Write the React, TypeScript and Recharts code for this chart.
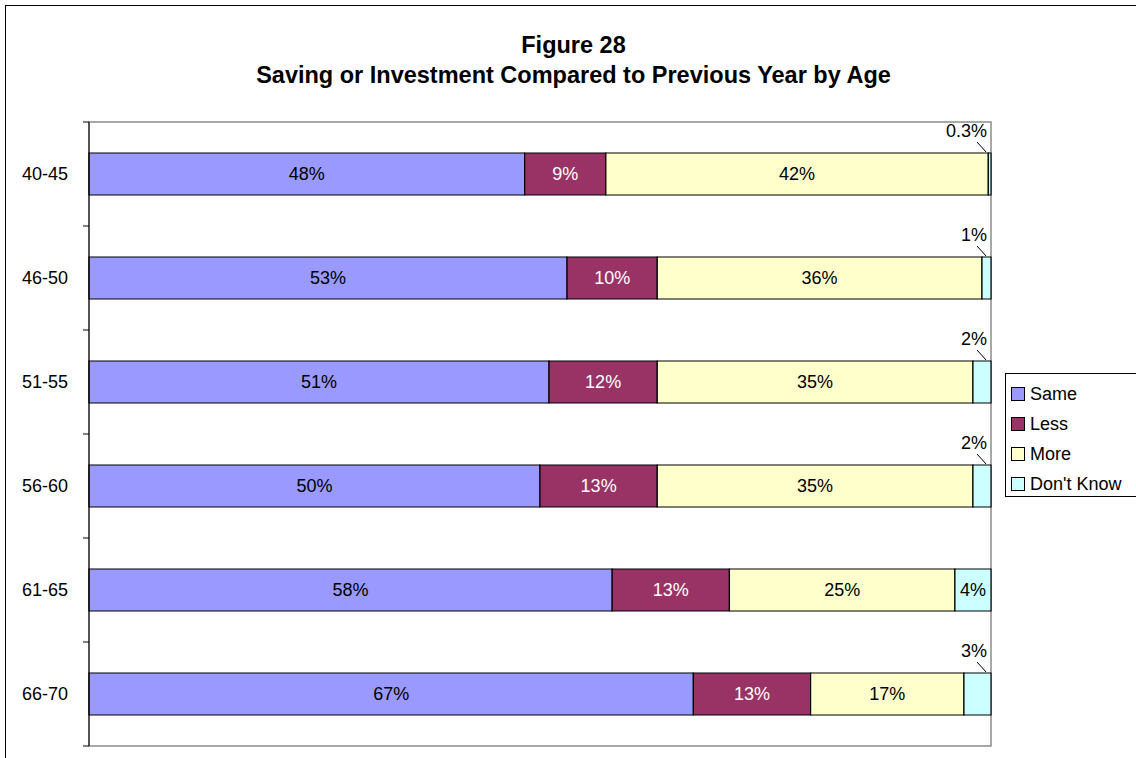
import { BarChart, Bar, XAxis, YAxis, LabelList, ReferenceArea } from "recharts";

const ages = ["40-45", "46-50", "51-55", "56-60", "61-65", "66-70"];
const same = [48.3, 53, 51, 50, 58, 67];
const less = [9, 10, 12, 13, 13, 13];
const more = [42.4, 36, 35, 35, 25, 17];
const dontKnow = [0.3, 1, 2, 2, 4, 3];

const seriesNames = ["Same", "Less", "More", "Don't Know"];
const seriesKeys = ["same", "less", "more", "dontKnow"];
const seriesColors = ["#9999FF", "#993366", "#FFFFCC", "#CCFFFF"];

const data = ages.map((age, i) => ({
  age,
  same: same[i],
  less: less[i],
  more: more[i],
  dontKnow: dontKnow[i],
}));

const FONT = "'Liberation Sans', Arial, sans-serif";
const W = 1136;
const H = 758;
const PLOT_TOP = 122;
const PLOT_BOTTOM = 746;
const AXIS_X = 89;
const BAND = (PLOT_BOTTOM - PLOT_TOP) / ages.length;

const fmt = (v: number) => (v < 1 ? v.toFixed(1) : String(Math.round(v))) + "%";

function AgeTick(props: any) {
  const { y, payload, index } = props;
  return (
    <g>
      <line x1={AXIS_X - 6} x2={AXIS_X} y1={y - BAND / 2} y2={y - BAND / 2} stroke="#000" />
      {index === ages.length - 1 && (
        <line x1={AXIS_X - 6} x2={AXIS_X} y1={y + BAND / 2} y2={y + BAND / 2} stroke="#000" />
      )}
      <text x={68} y={y + 6} textAnchor="end" fontFamily={FONT} fontSize={18} fill="#000">
        {payload.value}
      </text>
    </g>
  );
}

const centerLabel = (color: string) => (props: any) => {
  const { x, y, width, height, value } = props;
  return (
    <text
      x={x + width / 2}
      y={y + height / 2 + 6}
      textAnchor="middle"
      fontFamily={FONT}
      fontSize={18}
      fill={color}
    >
      {fmt(value)}
    </text>
  );
};

// small "don't know" slices get their label above the bar with a short leader
function dkLabel(props: any) {
  const { x, y, width, value } = props;
  if (width > 30) return centerLabel("#000")(props);
  const right = x + width;
  return (
    <g>
      <text x={right - 4} y={y - 16} textAnchor="end" fontFamily={FONT} fontSize={18} fill="#000">
        {fmt(value)}
      </text>
      <line x1={right - 14} y1={y - 11} x2={right - 5} y2={y - 1} stroke="#000" />
    </g>
  );
}

export default function App() {
  return (
    <div
      style={{
        position: "absolute",
        left: 0,
        top: 0,
        width: W,
        height: H,
        overflow: "hidden",
        background: "#fff",
        fontFamily: FONT,
      }}
    >
      <div
        style={{
          position: "absolute",
          left: 5,
          top: 5,
          width: 1200,
          height: 800,
          border: "1px solid #000",
        }}
      />
      <div
        style={{
          position: "absolute",
          left: 0,
          top: 30,
          width: 1147,
          textAlign: "center",
          fontWeight: "bold",
          fontSize: 23.5,
          lineHeight: "30px",
          color: "#000",
        }}
      >
        <div>Figure 28</div>
        <div>Saving or Investment Compared to Previous Year by Age</div>
      </div>

      <div style={{ position: "absolute", left: 0, top: 0 }}>
        <BarChart
          width={W}
          height={H}
          data={data}
          layout="vertical"
          barSize={42}
          margin={{ top: PLOT_TOP, right: W - 991, bottom: H - PLOT_BOTTOM, left: 9 }}
        >
          <XAxis type="number" domain={[0, 100]} hide />
          <YAxis
            type="category"
            dataKey="age"
            width={80}
            axisLine={{ stroke: "#000" }}
            tickLine={false}
            tick={<AgeTick />}
            interval={0}
          />
          <ReferenceArea x1={0} x2={100} fill="none" stroke="#8c8c8c" strokeWidth={1.5} />
          {seriesKeys.map((k, i) => (
            <Bar
              key={k}
              dataKey={k}
              name={seriesNames[i]}
              stackId="a"
              fill={seriesColors[i]}
              stroke="#000"
              strokeWidth={1.2}
              isAnimationActive={false}
            >
              <LabelList
                dataKey={k}
                content={k === "dontKnow" ? dkLabel : centerLabel(k === "less" ? "#fff" : "#000")}
              />
            </Bar>
          ))}
        </BarChart>
      </div>

      <div
        style={{
          position: "absolute",
          left: 1005,
          top: 373,
          width: 200,
          height: 124,
          border: "1px solid #000",
          background: "#fff",
          boxSizing: "border-box",
          paddingTop: 5,
        }}
      >
        {seriesNames.map((n, i) => (
          <div
            key={n}
            style={{ display: "flex", alignItems: "center", height: 30, fontSize: 18, color: "#000" }}
          >
            <span
              style={{
                display: "inline-block",
                width: 12,
                height: 12,
                marginLeft: 5,
                marginRight: 5,
                background: seriesColors[i],
                border: "1px solid #000",
              }}
            />
            {n}
          </div>
        ))}
      </div>
    </div>
  );
}
